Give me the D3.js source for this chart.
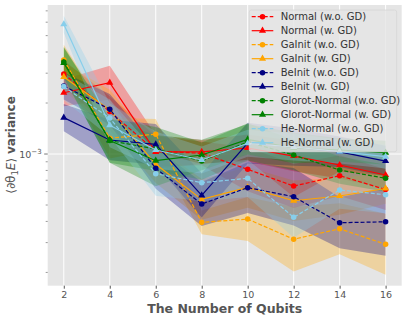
<!DOCTYPE html>
<html>
<head>
<meta charset="utf-8">
<script src="https://cdn.jsdelivr.net/npm/d3@7"></script>
<style>
  html, body { margin: 0; padding: 0; background: #fff; }
  text { font-family: "DejaVu Sans", sans-serif; }
</style>
</head>
<body>
<svg id="chart" width="407" height="320"></svg>
<script>
// data, variance values in units of 1e-3
const qubits = [2, 4, 6, 8, 10, 12, 14, 16];

const normalWo = [2.97, 1.78, 1.04, 1.01, 0.812, 0.647, 0.745, 0.617];
const normalW  = [2.30, 2.64, 1.03, 1.03, 1.085, 0.973, 0.861, 0.752];
const gainitWo = [3.59, 1.24, 1.31, 0.395, 0.413, 0.314, 0.362, 0.293];
const gainitW  = [2.85, 1.82, 0.870, 0.540, 0.636, 0.530, 0.565, 0.626];
const beinitWo = [2.52, 1.84, 0.823, 0.507, 0.633, 0.560, 0.393, 0.398];
const beinitW  = [1.64, 1.21, 1.14, 0.570, 1.16, 1.10, 1.03, 0.909];
const glorotWo = [3.49, 1.20, 1.07, 0.909, 1.18, 0.987, 0.804, 0.719];
const glorotW  = [3.45, 1.20, 0.913, 0.987, 1.221, 1.085, 1.056, 1.018];
const heWo     = [2.50, 1.63, 0.765, 0.677, 0.719, 0.423, 0.613, 0.575];
const heW      = [5.83, 1.48, 1.056, 0.922, 1.157, 1.10, 1.032, 0.964];

// half width of shaded band, in decades
const normalWoErr = [0.08, 0.09, 0.09, 0.07, 0.13, 0.13, 0.12, 0.12];
const normalWErr  = [0.08, 0.10, 0.10, 0.07, 0.08, 0.09, 0.08, 0.08];
const gainitWoErr = [0.09, 0.12, 0.09, 0.07, 0.13, 0.19, 0.15, 0.18];
const gainitWErr  = [0.08, 0.12, 0.11, 0.12, 0.12, 0.12, 0.11, 0.09];
const beinitWoErr = [0.08, 0.09, 0.12, 0.13, 0.15, 0.17, 0.15, 0.20];
const beinitWErr  = [0.08, 0.12, 0.12, 0.13, 0.12, 0.11, 0.09, 0.09];
const glorotWoErr = [0.09, 0.13, 0.13, 0.11, 0.11, 0.09, 0.08, 0.08];
const glorotWErr  = [0.09, 0.13, 0.15, 0.09, 0.09, 0.09, 0.07, 0.07];
const heWoErr     = [0.08, 0.11, 0.13, 0.11, 0.11, 0.12, 0.11, 0.11];
const heWErr      = [0.05, 0.13, 0.11, 0.08, 0.08, 0.08, 0.07, 0.07];

const seriesNames = ["Normal (w.o. GD)", "Normal (w. GD)", "GaInit (w.o. GD)", "GaInit (w. GD)",
  "BeInit (w.o. GD)", "BeInit (w. GD)", "Glorot-Normal (w.o. GD)", "Glorot-Normal (w. GD)",
  "He-Normal (w.o. GD)", "He-Normal (w. GD)"];
const seriesValues = [normalWo, normalW, gainitWo, gainitW, beinitWo, beinitW, glorotWo, glorotW, heWo, heW];
const seriesErr = [normalWoErr, normalWErr, gainitWoErr, gainitWErr, beinitWoErr, beinitWErr,
  glorotWoErr, glorotWErr, heWoErr, heWErr];
const colors = ["red", "red", "orange", "orange", "navy", "navy", "green", "green", "skyblue", "skyblue"];

const svg = d3.select("#chart");
const plot = {left: 47.7, top: 5, right: 401.7, bottom: 285.7};

const x = d3.scaleLinear().domain([1.3, 16.7]).range([plot.left, plot.right]);
const y = d3.scaleLog().domain([1.67e-4, 7.58e-3]).range([plot.bottom, plot.top]);

svg.append("rect")
  .attr("x", plot.left).attr("y", plot.top)
  .attr("width", plot.right - plot.left).attr("height", plot.bottom - plot.top)
  .attr("fill", "#E5E5E5");

// grid
svg.append("g").selectAll("line").data(qubits).enter().append("line")
  .attr("x1", d => x(d)).attr("x2", d => x(d))
  .attr("y1", plot.top).attr("y2", plot.bottom)
  .attr("stroke", "#fff").attr("stroke-width", 1);
svg.append("line")
  .attr("x1", plot.left).attr("x2", plot.right)
  .attr("y1", y(1e-3)).attr("y2", y(1e-3))
  .attr("stroke", "#fff").attr("stroke-width", 1);

// axes
const xAxis = svg.append("g")
  .attr("transform", "translate(0," + plot.bottom + ")")
  .call(d3.axisBottom(x).tickValues(qubits).tickSize(3).tickPadding(3));
xAxis.select(".domain").remove();
xAxis.selectAll("line").attr("stroke", "#555");
xAxis.selectAll("text").attr("fill", "#555").style("font-size", "9.5px");

const minor = [2e-4, 3e-4, 4e-4, 5e-4, 6e-4, 7e-4, 8e-4, 9e-4, 2e-3, 3e-3, 4e-3, 5e-3, 6e-3, 7e-3];
svg.append("g").selectAll("line").data(minor).enter().append("line")
  .attr("x1", plot.left - 2).attr("x2", plot.left)
  .attr("y1", d => y(d)).attr("y2", d => y(d))
  .attr("stroke", "#555").attr("stroke-width", 0.6);
svg.append("line")
  .attr("x1", plot.left - 3.5).attr("x2", plot.left)
  .attr("y1", y(1e-3)).attr("y2", y(1e-3))
  .attr("stroke", "#555").attr("stroke-width", 0.8);
const yl = svg.append("text")
  .attr("x", plot.left - 6).attr("y", y(1e-3) + 3.5)
  .attr("text-anchor", "end").attr("fill", "#555").style("font-size", "9.5px");
yl.append("tspan").text("10");
yl.append("tspan").attr("dy", -4).style("font-size", "7px").text("\u22123");

// bands and lines
const scaled = v => v * 1e-3;
seriesValues.forEach((vals, i) => {
  const err = seriesErr[i];
  const pts = vals.map((v, j) => ({q: qubits[j], v: scaled(v), lo: scaled(v) / Math.pow(10, err[j]), hi: scaled(v) * Math.pow(10, err[j])}));
  const area = d3.area().x(d => x(d.q)).y0(d => y(d.lo)).y1(d => y(d.hi));
  svg.append("path").datum(pts).attr("d", area)
    .attr("fill", colors[i]).attr("fill-opacity", 0.3).attr("stroke", "none");
});

seriesValues.forEach((vals, i) => {
  const pts = vals.map((v, j) => ({q: qubits[j], v: scaled(v)}));
  const line = d3.line().x(d => x(d.q)).y(d => y(d.v));
  const dashed = i % 2 === 0;
  svg.append("path").datum(pts).attr("d", line)
    .attr("fill", "none").attr("stroke", colors[i]).attr("stroke-width", 1.2)
    .attr("stroke-dasharray", dashed ? "4,2" : null);
  const sym = dashed ? d3.symbolCircle : d3.symbolTriangle;
  const size = dashed ? 24 : 22;
  svg.append("g").selectAll("path").data(pts).enter().append("path")
    .attr("d", d3.symbol().type(sym).size(size))
    .attr("transform", d => "translate(" + x(d.q) + "," + y(d.v) + ")")
    .attr("fill", colors[i]);
});

// legend
const lg = svg.append("g");
lg.append("rect")
  .attr("x", 249.3).attr("y", 10).attr("width", 147.4).attr("height", 141.7)
  .attr("rx", 2).attr("fill", "#E5E5E5").attr("fill-opacity", 0.8)
  .attr("stroke", "#d6d6d6").attr("stroke-width", 0.8);
seriesNames.forEach((name, i) => {
  const yy = 16.7 + i * 14;
  const dashed = i % 2 === 0;
  lg.append("line").attr("x1", 251.7).attr("x2", 273.3).attr("y1", yy).attr("y2", yy)
    .attr("stroke", colors[i]).attr("stroke-width", 1.2)
    .attr("stroke-dasharray", dashed ? "4,2" : null);
  lg.append("path")
    .attr("d", d3.symbol().type(dashed ? d3.symbolCircle : d3.symbolTriangle).size(dashed ? 24 : 22))
    .attr("transform", "translate(262.5," + yy + ")")
    .attr("fill", colors[i]);
  lg.append("text").attr("x", 280.7).attr("y", yy + 3.6)
    .attr("fill", "#333").style("font-size", "10px").text(name);
});

// axis labels
svg.append("text")
  .attr("x", (plot.left + plot.right) / 2).attr("y", 313)
  .attr("text-anchor", "middle").attr("fill", "#555")
  .style("font-size", "12.5px").style("font-weight", "bold")
  .text("The Number of Qubits");

const ylab = svg.append("text")
  .attr("transform", "translate(15,145) rotate(-90)")
  .attr("text-anchor", "middle").attr("fill", "#555").style("font-size", "12px");
ylab.append("tspan").text("\u27E8\u2202\u03B8");
ylab.append("tspan").attr("dy", 2.5).style("font-size", "8.5px").text("1");
ylab.append("tspan").attr("dy", -2.5).style("font-style", "italic").text("E");
ylab.append("tspan").text("\u27E9 ");
ylab.append("tspan").style("font-weight", "bold").text("variance");
</script>
</body>
</html>
